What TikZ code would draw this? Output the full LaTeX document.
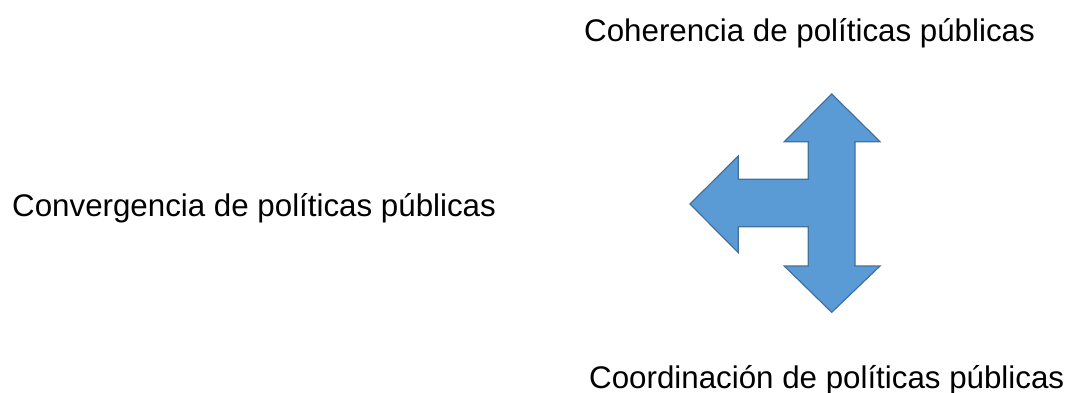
\documentclass[tikz,border=0pt]{standalone}
\usepackage{fontspec}
\setmainfont{Liberation Sans}
\usepackage{tikz}
\usetikzlibrary{calc,positioning}
\definecolor{arrowfill}{HTML}{5B9BD5}
\definecolor{arrowline}{HTML}{41719C}
\tikzset{label text/.style={anchor=base west, inner sep=0pt, font=\fontsize{31.3}{36}\selectfont}}

\begin{document}
\begin{tikzpicture}[x=1pt,y=-1pt]
                      \useasboundingbox (0,0) rectangle (1077,393);
                      \node[label text] (coherencia) at (584,41.7) {Coherencia de políticas públicas};
                      \node[label text] (convergencia) at (12,217) {Convergencia de políticas públicas};
                      \node[label text] (coordinacion) at (589,388) {Coordinación de políticas públicas};
                      \draw[fill=arrowfill, draw=arrowline, line width=1.2pt, line join=miter]
                          (831.7,94) --(880,141.7) --(855,141.7) --(855,266) --(880,266) --(831.7,312.3)
                          --(784.3,266) --(808.3,266) --(808.3,226.7) --(738.3,226.7) --(738.3,252.7)
                          --(690,204) --(738.3,156) --(738.3,179.3) --(808.3,179.3) --(808.3,141.7)
                          --(784.3,141.7) --cycle;
                  \end{tikzpicture}
\end{document}
